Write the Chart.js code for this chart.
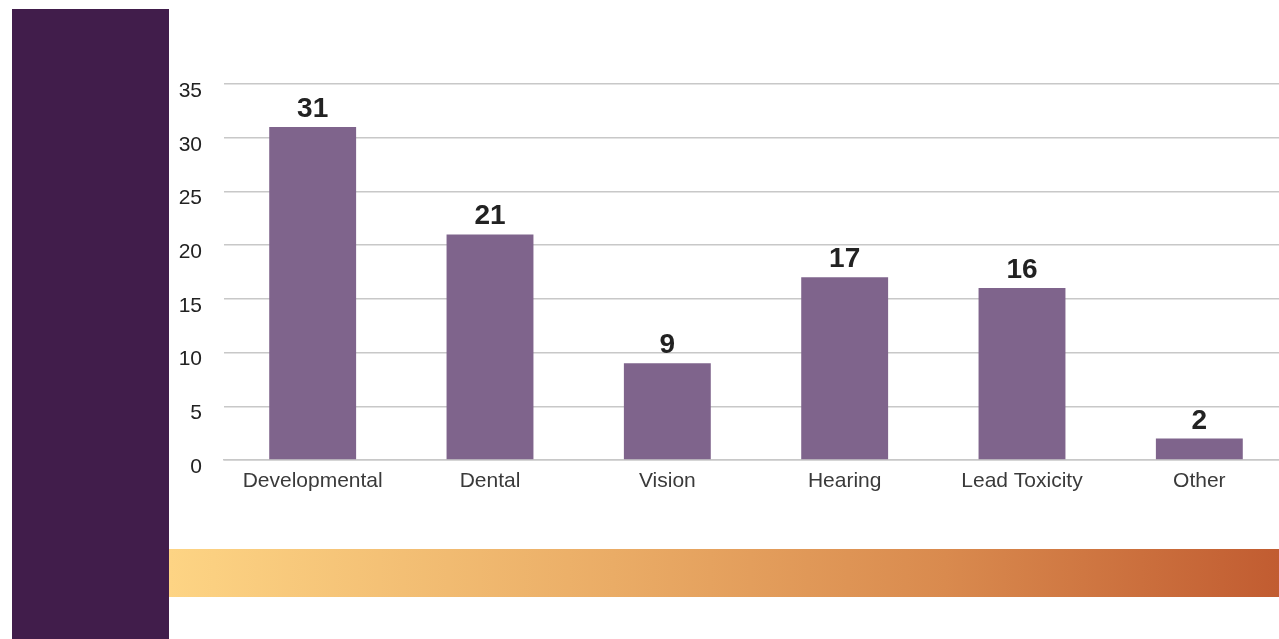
<!DOCTYPE html>
<html>
<head>
<meta charset="utf-8">
<script src="https://cdn.jsdelivr.net/npm/chart.js@4/dist/chart.umd.min.js"></script>
<style>
  html, body { margin: 0; padding: 0; width: 1279px; height: 639px; overflow: hidden; background: #ffffff; }
  #side { position: absolute; left: 12px; top: 9px; width: 157px; height: 630px; background: #411d4b; }
  #band { position: absolute; left: 169px; top: 549px; width: 1110px; height: 48px;
          background: linear-gradient(to right, #fdd484, #eaac66 40%, #d98a4e 70%, #c15c31); }
  #wrap { position: absolute; left: 168px; top: 40px; width: 1120px; height: 460px; }
</style>
</head>
<body>
<div id="side"></div>
<div id="band"></div>
<div id="wrap"><canvas id="c"></canvas></div>
<script>
const categories = ["Developmental", "Dental", "Vision", "Hearing", "Lead Toxicity", "Other"];
const values = [31, 21, 9, 17, 16, 2];
const yTicks = [0, 5, 10, 15, 20, 25, 30, 35];

const valueLabels = {
  id: 'valueLabels',
  afterDatasetsDraw(chart) {
    const ctx = chart.ctx;
    const meta = chart.getDatasetMeta(0);
    ctx.save();
    ctx.font = 'bold 28px "Liberation Sans", Arial, sans-serif';
    ctx.fillStyle = '#222222';
    ctx.textAlign = 'center';
    ctx.textBaseline = 'alphabetic';
    meta.data.forEach((bar, i) => {
      ctx.fillText(String(values[i]), bar.x, bar.y - 10);
    });
    ctx.restore();
  }
};

new Chart(document.getElementById('c'), {
  type: 'bar',
  data: {
    labels: categories,
    datasets: [{
      data: values,
      backgroundColor: '#7f648c',
      borderWidth: 0,
      barPercentage: 0.49,
      categoryPercentage: 1.0
    }]
  },
  options: {
    responsive: true,
    maintainAspectRatio: false,
    animation: false,
    layout: { padding: { top: 44, right: 0, bottom: 0, left: 0 } },
    plugins: { legend: { display: false }, tooltip: { enabled: false } },
    scales: {
      x: {
        grid: { display: false, drawTicks: false },
        border: { display: true, color: '#c8c8c8', width: 1.5 },
        ticks: {
          color: '#3a3a3a',
          font: { family: '"Liberation Sans", Arial, sans-serif', size: 21 },
          padding: 9,
          maxRotation: 0
        },
        afterFit(scale) { scale.height = 40; }
      },
      y: {
        min: 0,
        max: 35,
        afterBuildTicks(scale) { scale.ticks = yTicks.map(v => ({ value: v })); },
        grid: { color: '#c8c8c8', lineWidth: 1.5, drawTicks: false },
        border: { display: false },
        ticks: {
          color: '#222222',
          font: { family: '"Liberation Sans", Arial, sans-serif', size: 21 },
          padding: 22,
          labelOffset: 7
        },
        afterFit(scale) { scale.width = 56; }
      }
    }
  },
  plugins: [valueLabels]
});
</script>
</body>
</html>
